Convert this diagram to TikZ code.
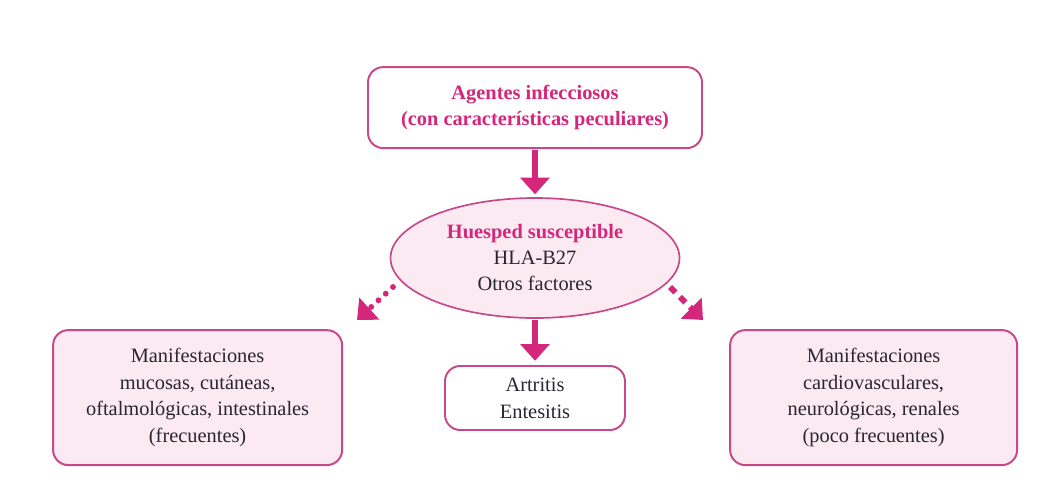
\documentclass[tikz,border=0pt]{standalone}
\usepackage{fontspec}
\setmainfont{Liberation Serif}
\usepackage{tikz}
\usetikzlibrary{shapes.geometric}
\usetikzlibrary{arrows.meta}
\usepackage{xcolor}
\definecolor{magenta1}{RGB}{212,38,122}
\definecolor{borde}{RGB}{200,72,138}
\definecolor{rosa}{RGB}{251,234,242}
\definecolor{texto}{RGB}{40,38,50}

\begin{document}
\begin{tikzpicture}[
	caja/.style={draw=borde,line width=1.4pt,rounded corners=0.38cm,align=center,
		font=\fontsize{14.5}{19}\selectfont,text=texto,inner sep=0pt},
	titulo/.style={text=magenta1,font=\fontsize{14.5}{19}\selectfont\bfseries},
	flecha/.style={draw=magenta1,line width=4.2pt,-{Triangle[length=0.42cm,width=0.72cm]},magenta1}
	]
	\useasboundingbox (0,0) rectangle (26.35,-12.55);
	\node[caja,fill=white,minimum width=8.35cm,minimum height=2.025cm] (agentes) at (13.375,-2.69)
		{\textcolor{magenta1}{\bfseries Agentes infecciosos}\\\textcolor{magenta1}{\bfseries (con características peculiares)}};
	\node[ellipse,draw=borde,line width=1.2pt,fill=rosa,align=center,inner sep=0pt,
		minimum width=7.225cm,minimum height=3cm,font=\fontsize{14.5}{18.5}\selectfont,text=texto] (huesped) at (13.375,-6.45)
		{\textcolor{magenta1}{\bfseries Huesped susceptible}\\HLA-B27\\Otros factores};
	\node[caja,fill=white,minimum width=4.5cm,minimum height=1.6cm] (artritis) at (13.375,-9.95)
		{Artritis\\Entesitis};
	\node[caja,fill=rosa,minimum width=7.225cm,minimum height=3.375cm] (izq) at (4.94,-9.94)
		{Manifestaciones\\mucosas, cutáneas,\\oftalmológicas, intestinales\\(frecuentes)};
	\node[caja,fill=rosa,minimum width=7.175cm,minimum height=3.375cm] (der) at (21.84,-9.94)
		{Manifestaciones\\cardiovasculares,\\neurológicas, renales\\(poco frecuentes)};
	\coordinate (izq0) at (9.825,-7.175);
	\coordinate (izq1) at (8.925,-8.0);
	\coordinate (der0) at (16.75,-7.175);
	\coordinate (der1) at (17.575,-8.0);
	% flechas
	\path[flecha]
	(agentes) edge[shorten <=1pt,shorten >=2pt] (huesped)
	(huesped) edge[shorten <=1pt,shorten >=3pt] (artritis);
	\draw[flecha,line cap=round,dash pattern=on 0pt off 7pt] (izq0) -- (izq1);
	\draw[flecha,dash pattern=on 5.5pt off 4.5pt] (der0) -- (der1);
\end{tikzpicture}
\end{document}
